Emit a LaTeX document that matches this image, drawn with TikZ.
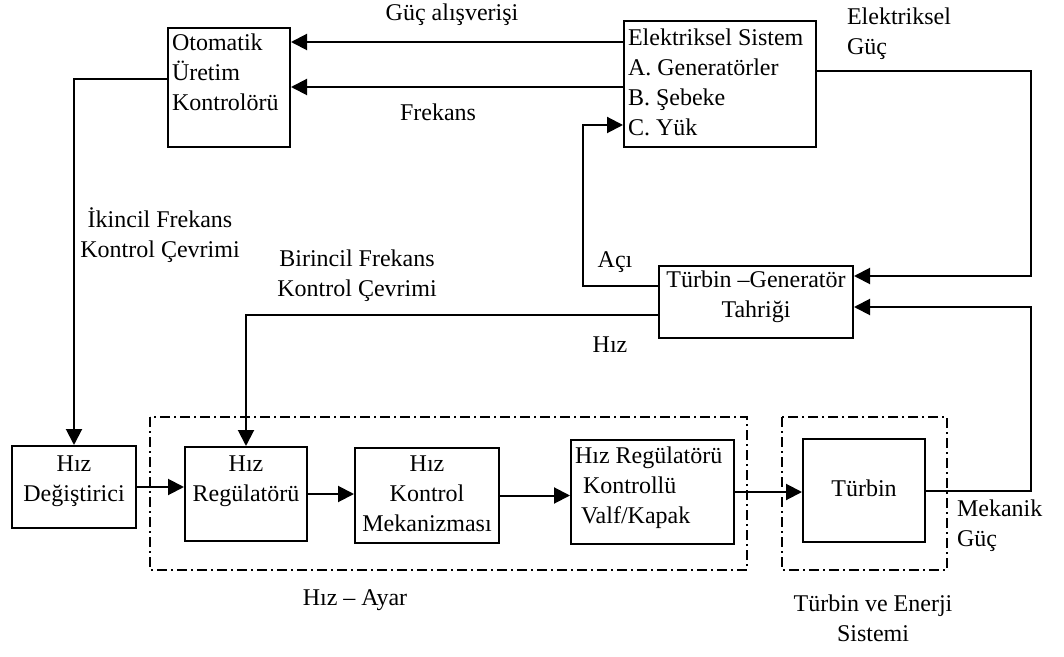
\documentclass[tikz,border=0pt]{standalone}
\usepackage{fontspec}
\setmainfont{Liberation Serif}
\usetikzlibrary{arrows.meta}

\tikzset{
  blok/.style={draw, line width=1pt, anchor=north, inner ysep=0pt, inner xsep=2pt},
  ok/.style={line width=1pt, -{Triangle[length=8pt,width=8pt]}},
  grup/.style={line width=1pt, dash pattern=on 5pt off 2pt on 1pt off 2pt},
  etiket/.style={align=center},
}

\begin{document}
\begin{tikzpicture}[x=0.5pt, y=-0.5pt, every node/.style={font=\fontsize{12pt}{15pt}\selectfont}]
        \useasboundingbox (0,0) rectangle (1064,657);

        % ust bloklar
        \node[blok, text width=57pt, align=flush left, text height=11.5pt, text depth=48pt] (ouk) at (229,27) {Otomatik\\Üretim\\Kontrolörü};
        \node[blok, text width=92pt, align=flush left, text height=12.5pt, text depth=50.5pt] (els) at (720,20) {Elektriksel Sistem\\A. Generatörler\\B. Şebeke\\C. Yük};
        \node[blok, text width=93pt, align=flush center, text height=11pt, text depth=25pt] (tg) at (756,265) {Türbin –Generatör\\Tahriği};

        % alt bloklar
        \node[blok, text width=58pt, align=flush center, text height=12.5pt, text depth=28.5pt] (hd) at (74,445) {Hız\\Değiştirici};
        \node[blok, text width=57pt, align=flush center, text height=12pt, text depth=35pt] (hr) at (246,446) {Hız\\Regülatörü};
        \node[blok, text width=68pt, align=flush center, text height=11.5pt, text depth=36pt] (hkm) at (427,447) {Hız\\Kontrol\\Mekanizması};
        \node[blok, text width=77.5pt, align=flush left, text height=11.5pt, text depth=40.5pt] (valf) at (652.5,439) {Hız Regülatörü\\\hspace{4pt}Kontrollü\\\hspace{3pt}Valf/Kapak};
        \node[blok, text width=57pt, align=flush center, text height=28.5pt, text depth=23pt] (trb) at (864,438) {Türbin};

        % kesikli gruplar
        \draw[grup] (150,417) rectangle (747,570);
        \draw[grup] (782,417) rectangle (947,570);

        % baglantilar
        \draw[ok] (els.west |- 0,42) -- (ouk.east |- 0,42);
        \draw[ok] (els.west |- 0,87) -- (ouk.east |- 0,87);
        \draw[ok] (ouk.west |- 0,79) -| (hd.north);
        \draw[ok] (tg.west |- 0,315) -| (hr.north);
        \draw[ok] (tg.west |- 0,286) -| (583,125) -- (els.west |- 0,125);
        \draw[ok] (els.east |- 0,71) -| (1031,276) -- (tg.east |- 0,276);
        \draw[ok] (trb.east) -| (1031,307) -- (tg.east |- 0,307);
        \draw[ok] (hd.east) -- (hd.east -| hr.west);
        \draw[ok] (hr.east) -- (hr.east -| hkm.west);
        \draw[ok] (hkm.east) -- (hkm.east -| valf.west);
        \draw[ok] (valf.east) -- (valf.east -| trb.west);

        % etiketler
        \node[etiket] (l1) at (452,15) {Güç alışverişi};
        \node[etiket] (l2) at (438,112) {Frekans};
        \node[etiket] (l3) at (160,235) {İkincil Frekans\\Kontrol Çevrimi};
        \node[etiket] (l4) at (357,276) {Birincil Frekans\\Kontrol Çevrimi};
        \node[etiket, align=left, anchor=west] (l5) at (840,34) {Elektriksel\\Güç};
        \node[etiket] (l6) at (615,262) {Açı};
        \node[etiket] (l7) at (610,345) {Hız};
        \node[etiket, align=left, anchor=west] (l8) at (950,526) {Mekanik\\Güç};
        \node[etiket] (l9) at (355,600) {Hız – Ayar};
        \node[etiket] (l10) at (873,618) {Türbin ve Enerji\\Sistemi};
        
    \end{tikzpicture}
\end{document}
